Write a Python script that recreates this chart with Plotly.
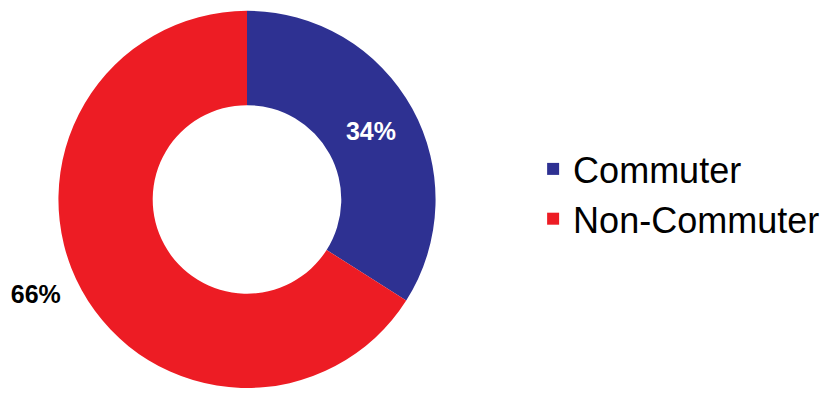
import plotly.graph_objects as go

# Share of respondents by commuting status
categories = ["Commuter", "Non-Commuter"]
shares = [34, 66]
slice_colors = ["#2E3192", "#ED1C24"]
label_positions = ["inside", "outside"]
label_colors = ["#FFFFFF", "#000000"]
# outside label gets a little padding so it sits further from the ring
label_templates = ["%{value}%", "%{value}%\u00a0\u00a0"]

W, H = 833, 393
cx, cy, r = 247, 202, 191  # pie centre and radius in pixels

fig = go.Figure(
    go.Pie(
        labels=categories,
        values=shares,
        hole=0.5,
        sort=False,
        direction="clockwise",
        rotation=0,
        marker=dict(colors=slice_colors, line=dict(width=0)),
        texttemplate=label_templates,
        textposition=label_positions,
        insidetextorientation="horizontal",
        textfont=dict(family="Arial, Liberation Sans, sans-serif", size=25,
                      color=label_colors, weight="bold"),
        domain=dict(x=[(cx - r) / W, (cx + r) / W],
                    y=[max(0.0, (H - cy - r) / H), min(1.0, (H - cy + r) / H)]),
        hoverinfo="label+percent",
    )
)

fig.update_layout(
    width=W,
    height=H,
    margin=dict(l=0, r=0, t=0, b=0),
    paper_bgcolor="white",
    plot_bgcolor="white",
    showlegend=True,
    legend=dict(
        x=0.64,
        y=0.5,
        xanchor="left",
        yanchor="middle",
        font=dict(family="Arial, Liberation Sans, sans-serif", size=36, color="#000000"),
        bgcolor="rgba(0,0,0,0)",
        tracegroupgap=0,
    ),
)

fig.write_html("out.html")
